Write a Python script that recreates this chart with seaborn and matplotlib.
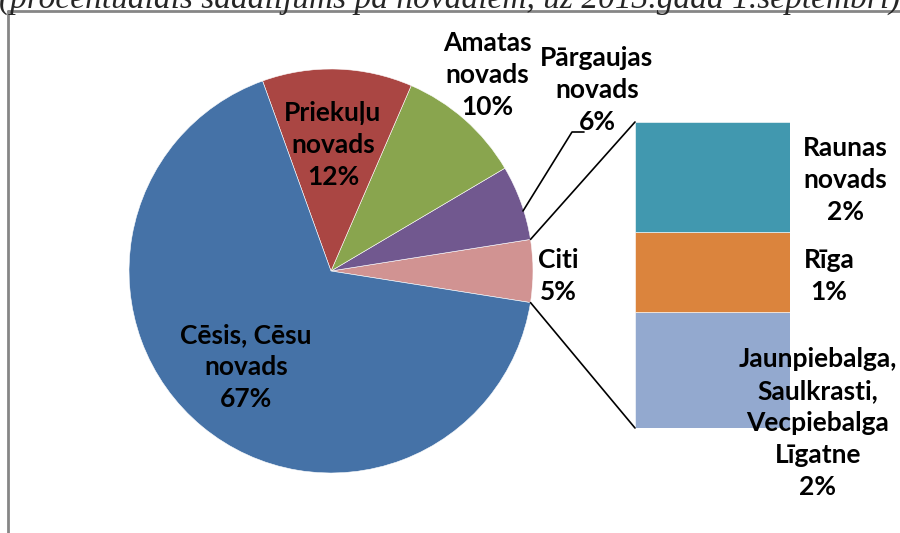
import matplotlib
matplotlib.use("Agg")
import matplotlib.pyplot as plt
import seaborn as sns
from matplotlib.lines import Line2D
import numpy as np

# Data
pie_names = ["Citi", "Pārgaujas\nnovads", "Amatas\nnovads", "Priekuļu\nnovads", "Cēsis, Cēsu\nnovads"]
pie_values = [5, 6, 10, 12, 67]
pie_colors = ["#D19392", "#71588F", "#89A54E", "#AA4643", "#4572A7"]

sub_names = ["Jaunpiebalga,\nSaulkrasti,\nVecpiebalga\nLīgatne", "Rīga", "Raunas\nnovads"]
sub_values = [1.9, 1.3, 1.8]
sub_colors = ["#93A9CF", "#DB843D", "#4198AF"]

title = "(procentuālais sadalījums pa novadiem, uz 2013.gada 1.septembri)"

sns.set_style("white")
plt.rcParams["font.family"] = ["Lato", "DejaVu Sans"]

W, H = 900, 533
fig = plt.figure(figsize=(9, 5.33), dpi=100)

def py(y):
    return H - y

# stacked bar for "Citi" (drawn underneath the label layer)
bx0, by0, bx1, by1 = 635, 122, 790, 428
bax = fig.add_axes([bx0 / W, (H - by1) / H, (bx1 - bx0) / W, (by1 - by0) / H])
bottom = 0
for v, c in zip(sub_values, sub_colors):
    bax.bar(0, v, bottom=bottom, color=c, width=1.0, edgecolor="white", linewidth=0.4)
    bottom += v
bax.set_xlim(-0.5, 0.5)
bax.set_ylim(0, sum(sub_values))
bax.axis("off")
bax.set_zorder(1)

ax = fig.add_axes([0, 0, 1, 1])
ax.set_zorder(2)
ax.patch.set_visible(False)

cx, cy, r = 331, py(271), 202
ax.pie(pie_values, colors=pie_colors, startangle=-9, counterclock=True,
       center=(cx, cy), radius=r,
       wedgeprops=dict(edgecolor="white", linewidth=0.4))
ax.set_xlim(0, W)
ax.set_ylim(0, H)
ax.set_aspect("auto")
ax.axis("off")

fs = 19
lab = dict(fontsize=fs, fontweight="bold", ha="center", va="center", linespacing=1.4, color="black")

def pct(v):
    return f"{round(v)}%"

ax.text(333, py(145), f"{pie_names[3]}\n{pct(pie_values[3])}", **lab)
ax.text(487, py(75), f"{pie_names[2]}\n{pct(pie_values[2])}", **lab)
ax.text(597, py(90), f"{pie_names[1]}\n{pct(pie_values[1])}", **lab)
ax.text(558, py(276), f"{pie_names[0]}\n{pct(pie_values[0])}", **lab)
ax.text(246, py(367), f"{pie_names[4]}\n{pct(pie_values[4])}", **lab)

# leader line for Pārgaujas
ax.plot([523, 572, 584], [py(211), py(132), py(132)], color="black", lw=1.2)

# connector lines from Citi wedge to bar
half = np.deg2rad(360 * pie_values[0] / sum(pie_values) / 2)
ax.plot([cx + r * np.cos(half), bx0], [cy + r * np.sin(half), py(by0)], color="black", lw=1.2)
ax.plot([cx + r * np.cos(half), bx0], [cy - r * np.sin(half), py(by1)], color="black", lw=1.2)

ax.text(845, py(180), f"{sub_names[2]}\n{pct(sub_values[2])}", **lab)
ax.text(829, py(276), f"{sub_names[1]}\n{pct(sub_values[1])}", **lab)
ax.text(818, py(423), f"{sub_names[0]}\n{pct(sub_values[0])}", **lab)

# frame (partly cut off)
fig.add_artist(Line2D([8 / W, 8 / W], [0, py(11) / H], color="#868686", lw=2, transform=fig.transFigure))
fig.add_artist(Line2D([8 / W, 1], [py(11) / H, py(11) / H], color="#868686", lw=2, transform=fig.transFigure))

# title, cut off at the top edge as in the source
fig.text(0.5, py(8) / H, title, ha="center", va="baseline", fontsize=24,
         style="italic", family=["Liberation Serif", "DejaVu Serif"])

fig.savefig("out.png", dpi=100)
